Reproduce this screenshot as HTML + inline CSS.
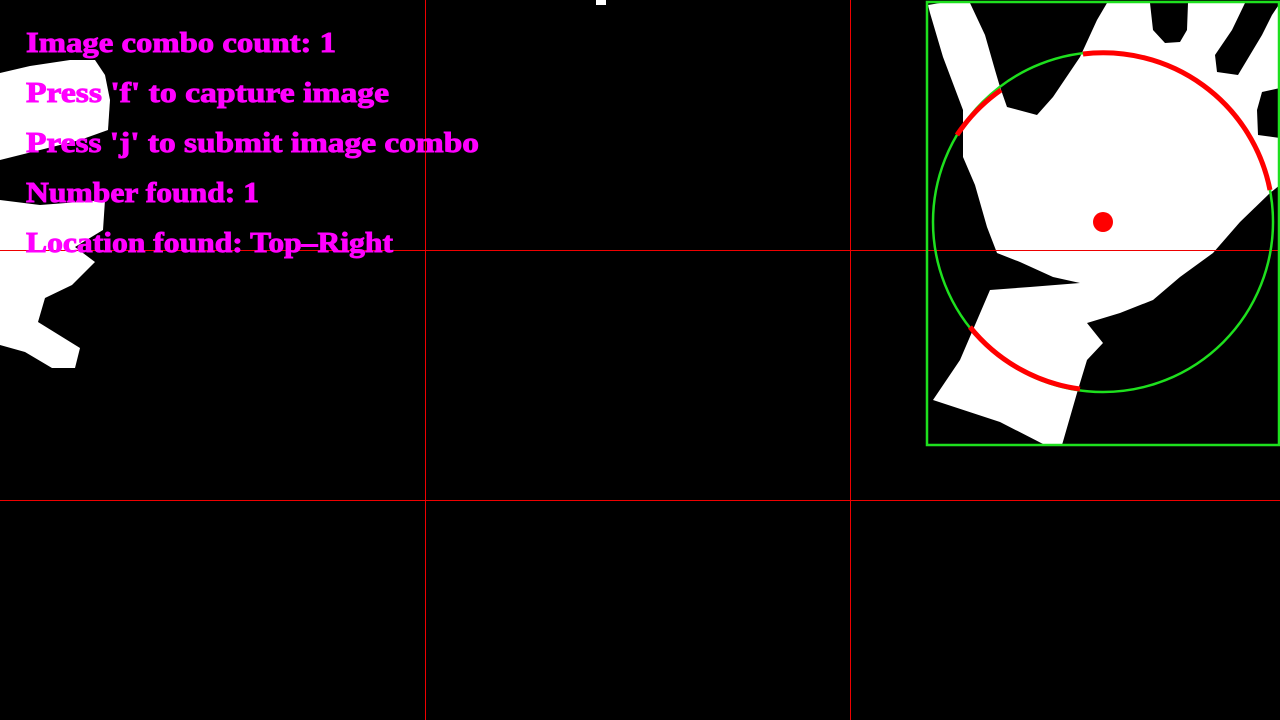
<!DOCTYPE html>
<html><head><meta charset="utf-8"><style>html,body{margin:0;padding:0;background:#000}svg{display:block}</style></head>
<body>
<svg width="1280" height="720" viewBox="0 0 1280 720">
<rect x="0" y="0" width="1280" height="720" fill="#000"/>
<g fill="#fff">
<path d="M928,5 L940,3 L970,3 L985,35 L995,70 L1000,87 L1007,107 L1037,115 L1053,97 L1080,57 L1097,20 L1107,3 L1150,3 L1153,30 L1165,43 L1180,42 L1187,30 L1188,3 L1245,3 L1232,30 L1215,55 L1217,72 L1238,75 L1250,55 L1262,35 L1272,15 L1280,3 L1280,88 L1262,92 L1257,110 L1258,135 L1280,138 L1280,185 L1270,193 L1240,222 L1213,253 L1180,277 L1153,300 L1120,313 L1087,323 L1103,343 L1087,360 L1077,393 L1062,445 L1045,445 L1000,422 L933,400 L960,360 L990,290 L1030,287 L1080,283 L1053,277 L1020,262 L997,253 L987,227 L975,185 L963,157 L963,110 L943,57 L930,13 Z"/>
<path d="M0,73 L30,66 L70,60 L95,60 L105,75 L110,100 L108,130 L80,140 L40,150 L0,160 Z"/>
<path d="M0,200 L40,205 L105,200 L103,230 L75,247 L95,262 L72,285 L45,298 L38,322 L80,348 L75,368 L52,368 L25,352 L0,345 Z"/>
<rect x="596" y="0" width="10" height="5"/>
</g>
<g stroke="#e00" stroke-width="1">
<line x1="0" y1="250.5" x2="1280" y2="250.5"/>
<line x1="0" y1="500.5" x2="1280" y2="500.5"/>
<line x1="425.5" y1="0" x2="425.5" y2="720"/>
<line x1="850.5" y1="0" x2="850.5" y2="720"/>
</g>
<rect x="927" y="2" width="352" height="443" fill="none" stroke="#1ee01e" stroke-width="2.5"/>
<circle cx="1103" cy="222" r="170" fill="none" stroke="#1ee01e" stroke-width="2.5"/>
<g fill="none" stroke="#f00" stroke-width="5">
<path d="M1083,54 A170,170 0 0 1 1270,190"/>
<path d="M957,135 A170,170 0 0 1 1001,90"/>
<path d="M970,327 A170,170 0 0 0 1080,389"/>
</g>
<circle cx="1103" cy="222" r="10" fill="#f00"/>
<g fill="#f0f" stroke="#f0f" stroke-width="0.9" font-family="'Liberation Serif', serif" font-weight="bold" font-size="28">
<text x="26" y="52" textLength="310" lengthAdjust="spacingAndGlyphs">Image combo count: 1</text>
<text x="26" y="102" textLength="363" lengthAdjust="spacingAndGlyphs">Press 'f' to capture image</text>
<text x="26" y="152" textLength="453" lengthAdjust="spacingAndGlyphs">Press 'j' to submit image combo</text>
<text x="26" y="202" textLength="233" lengthAdjust="spacingAndGlyphs">Number found: 1</text>
<text x="26" y="252" textLength="367" lengthAdjust="spacingAndGlyphs">Location found: Top–Right</text>
</g>
</svg>
</body></html>
